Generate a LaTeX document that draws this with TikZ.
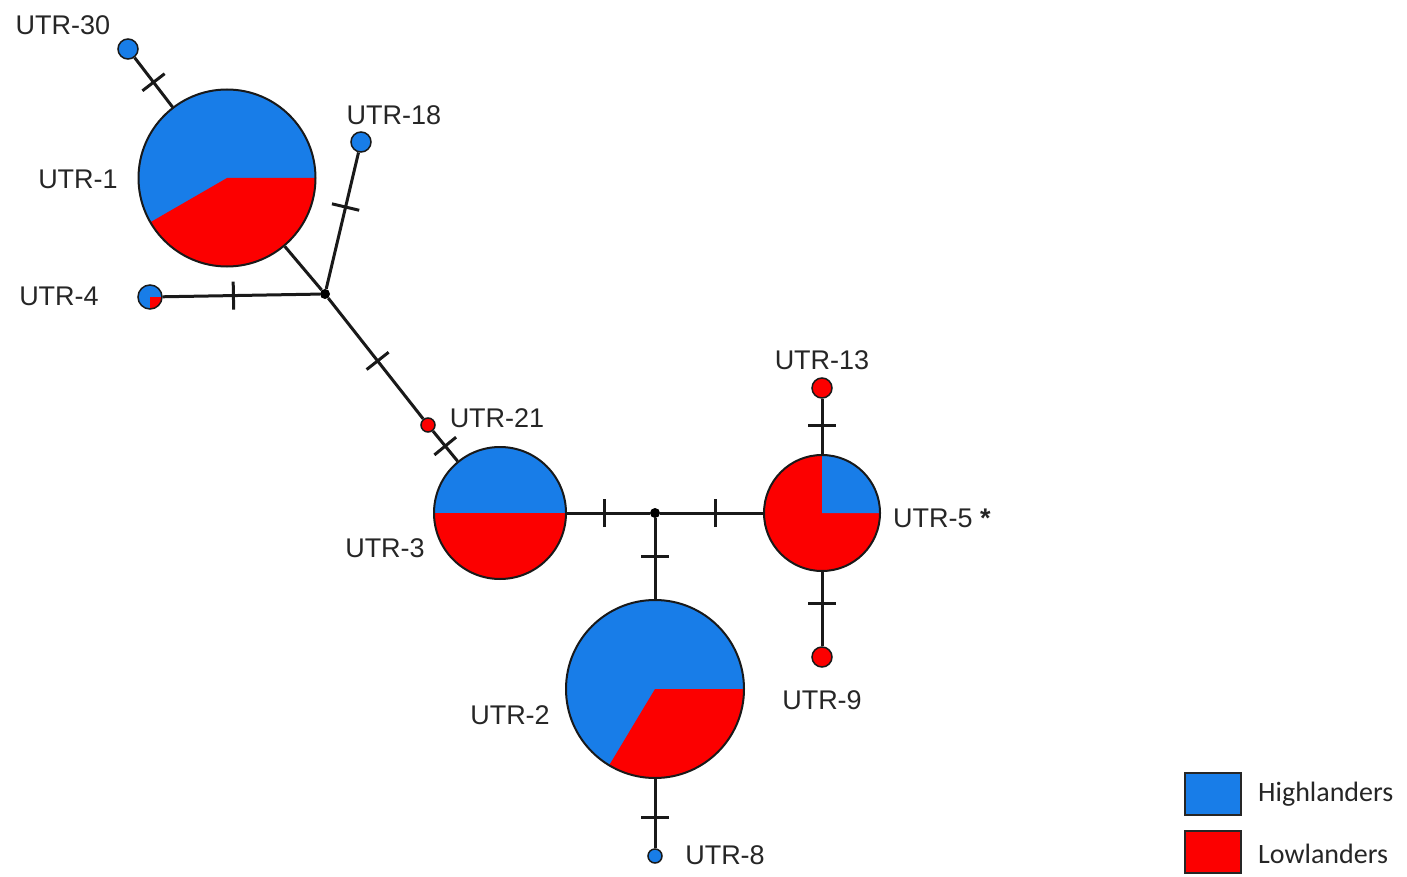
\documentclass[tikz,border=0pt]{standalone}
\usepackage{fontspec}
\setmainfont{Liberation Sans}
\newfontfamily\legfont{Carlito}
\usetikzlibrary{decorations.markings}
\definecolor{hblue}{RGB}{24,125,232}
\definecolor{lred}{RGB}{252,0,0}
\definecolor{txt}{RGB}{38,38,38}
\begin{document}
\begin{tikzpicture}[x=1pt,y=-1pt,
  hap/.style={circle,draw=black!90,line width=2pt,fill=hblue,inner sep=0pt,minimum size=#1},
  small/.style={circle,draw=black!90,line width=1.5pt,inner sep=0pt,minimum size=#1},
  wedge/.style n args={3}{path picture={
     \coordinate (pc) at (path picture bounding box.center);
     \fill[#1] (pc) -- ([shift={(#2:300pt)}]pc) -- ([shift={({#2+(#3-#2)/3}:300pt)}]pc)
        -- ([shift={({#2+2*(#3-#2)/3}:300pt)}]pc) -- ([shift={(#3:300pt)}]pc) -- cycle;}},
  junc/.style={circle,fill=black,inner sep=0pt,minimum size=10pt},
  edge/.style={line width=3pt,draw=black!90},
  mut/.style={postaction={decorate,decoration={markings,mark=at position #1 with {\draw[line width=3pt,black!90] (0pt,-14pt) -- (0pt,14pt);}}}},
  lab/.style={text=txt,inner sep=0pt,font=\fontsize{27}{32}\selectfont},
  leglab/.style={text=txt,inner sep=0pt,anchor=base west,font=\legfont\fontsize{28}{33}\selectfont},
  legbox/.style={draw=black!85,line width=2pt,minimum width=56pt,minimum height=42pt,inner sep=0pt}
]
\useasboundingbox (0,0) rectangle (1407,877);

% haplotype nodes
\node[small=20pt,fill=hblue] (u30) at (128,49) {};
\node[hap=177pt,wedge={lred}{-150}{0}] (u1) at (227,178) {};
\node[small=20pt,fill=hblue] (u18) at (361,142) {};
\node[small=24pt,fill=hblue,wedge={lred}{-90}{0}] (u4) at (150,297) {};
\node[junc] (j1) at (325,294) {};
\node[small=14pt,fill=lred] (u21) at (428,425) {};
\node[hap=132pt,wedge={lred}{-180}{0}] (u3) at (500,513) {};
\node[junc] (j2) at (655,513) {};
\node[hap=116pt,fill=lred,wedge={hblue}{0}{90}] (u5) at (822,513) {};
\node[small=20pt,fill=lred] (u13) at (822,388) {};
\node[small=20pt,fill=lred] (u9) at (822,657) {};
\node[hap=178pt,wedge={lred}{-121}{0}] (u2) at (655,689) {};
\node[small=14pt,fill=hblue] (u8) at (655,856) {};

% connectors
\draw[edge,mut=0.5] (u30) -- (u1);
\draw[edge] (u1) -- (j1);
\draw[edge,mut=0.4] (u18) -- (j1);
\draw[edge,mut=0.45] (u4) -- (j1);
\draw[edge,mut=0.52] (j1) -- (u21);
\draw[edge,mut=0.5] (u21) -- (u3);
\draw[edge,mut=0.45] (u3) -- (j2);
\draw[edge,mut=0.54] (j2) -- (u5);
\draw[edge,mut=0.48] (j2) -- (u2);
\draw[edge,mut=0.49] (u13) -- (u5);
\draw[edge,mut=0.43] (u5) -- (u9);
\draw[edge,mut=0.55] (u2) -- (u8);

% labels
\node[lab] (l30) at (63,25) {UTR-30};
\node[lab] (l18) at (394,115) {UTR-18};
\node[lab] (l1) at (78,179) {UTR-1};
\node[lab] (l4) at (59,296) {UTR-4};
\node[lab] (l21) at (497,418) {UTR-21};
\node[lab] (l3) at (385,548) {UTR-3};
\node[lab] (l13) at (822,360) {UTR-13};
\node[lab,anchor=west] (l5) at (893,518) {UTR-5 \textbf{*}};
\node[lab] (l9) at (822,700) {UTR-9};
\node[lab] (l2) at (510,715) {UTR-2};
\node[lab] (l8) at (725,855) {UTR-8};

% legend
\node[legbox,fill=hblue] (bh) at (1213,794) {};
\node[legbox,fill=lred] (bl) at (1213,852) {};
\node[leglab] (th) at (1258,801) {Highlanders};
\node[leglab] (tl) at (1258,863) {Lowlanders};
\end{tikzpicture}
\end{document}
